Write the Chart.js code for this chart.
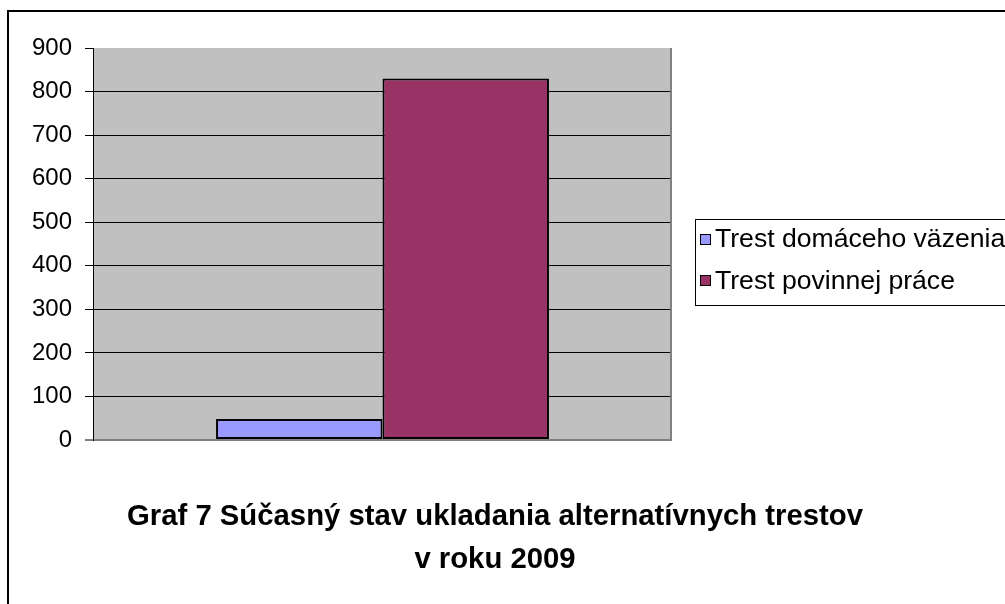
<!DOCTYPE html>
<html><head><meta charset="utf-8">
<script src="https://cdn.jsdelivr.net/npm/chart.js@4/dist/chart.umd.min.js"></script>
<style>html,body{margin:0;padding:0;background:#fff;overflow:hidden}canvas{display:block}</style>
</head><body>
<canvas id="c" width="1005" height="604"></canvas>
<script>
const categories = [''];
const seriesNames = ['Trest domáceho väzenia', 'Trest povinnej práce'];
const seriesValues = [[48], [830]];
const seriesColors = ['#9999FF', '#993366'];
const yTickValues = [0, 100, 200, 300, 400, 500, 600, 700, 800, 900];
const titleLines = ['Graf 7 Súčasný stav ukladania alternatívnych trestov', 'v roku 2009'];

const FONT = '"Liberation Sans", Arial, Helvetica, sans-serif';

const decor = {
  id: 'decor',
  beforeDraw(chart) {
    const ctx = chart.ctx, a = chart.chartArea;
    ctx.save();
    ctx.fillStyle = '#fff';
    ctx.fillRect(0, 0, chart.width, chart.height);
    ctx.fillStyle = '#C0C0C0';
    ctx.fillRect(a.left, a.top, a.right - a.left, a.bottom - a.top);
    ctx.restore();
  },
  afterDraw(chart) {
    const ctx = chart.ctx, a = chart.chartArea;
    ctx.save();
    ctx.strokeStyle = '#808080';
    ctx.lineWidth = 2;
    ctx.beginPath();
    ctx.moveTo(a.right - 1, a.top);
    ctx.lineTo(a.right - 1, a.bottom + 1);
    ctx.stroke();
    ctx.strokeStyle = '#000';
    ctx.lineWidth = 2;
    ctx.strokeRect(8, 11, 1100, 800);
    ctx.lineWidth = 1;
    ctx.strokeRect(695.5, 219.5, 400, 86);
    ctx.font = '26.6px ' + FONT;
    ctx.textBaseline = 'alphabetic';
    ctx.textAlign = 'left';
    chart.data.datasets.forEach((ds, i) => {
      const sy = 234 + i * 41;
      ctx.fillStyle = ds.backgroundColor;
      ctx.fillRect(700, sy, 11, 11);
      ctx.strokeStyle = '#000';
      ctx.lineWidth = 1;
      ctx.strokeRect(700.5, sy + 0.5, 10, 10);
      ctx.fillStyle = '#000';
      ctx.fillText(ds.label, 715, 247 + i * 42);
    });
    ctx.font = 'bold 29.3px ' + FONT;
    ctx.textAlign = 'center';
    ctx.fillStyle = '#000';
    titleLines.forEach((t, i) => ctx.fillText(t, 495, 525 + i * 43));
    ctx.restore();
  }
};

new Chart(document.getElementById('c'), {
  type: 'bar',
  data: {
    labels: categories,
    datasets: seriesNames.map((n, i) => ({
      label: n,
      data: seriesValues[i],
      backgroundColor: seriesColors[i],
      borderColor: '#000',
      borderWidth: 2,
      borderSkipped: false,
      categoryPercentage: 0.575,
      barPercentage: 1.0
    }))
  },
  options: {
    responsive: false,
    devicePixelRatio: 1,
    animation: false,
    layout: { padding: { left: 8, top: 48, right: 333, bottom: 164 } },
    plugins: { legend: { display: false }, title: { display: false }, tooltip: { enabled: false } },
    scales: {
      x: { display: false },
      y: {
        min: 0, max: 900,
        afterBuildTicks(scale) { scale.ticks = yTickValues.map(v => ({ value: v })); },
        afterFit(scale) { scale.width = 85; },
        ticks: { font: { family: FONT, size: 24 }, color: '#000', padding: 13 },
        grid: {
          color: (c) => c.tick && c.tick.value === 0 ? '#808080' : (c.tick && c.tick.value === 900 ? 'rgba(0,0,0,0)' : '#000'),
          lineWidth: (c) => c.tick && c.tick.value === 0 ? 2 : 1,
          tickColor: '#000', tickLength: 8, tickWidth: 1
        },
        border: { display: true, color: '#000', width: 1 }
      }
    }
  },
  plugins: [decor]
});
</script>
</body></html>
